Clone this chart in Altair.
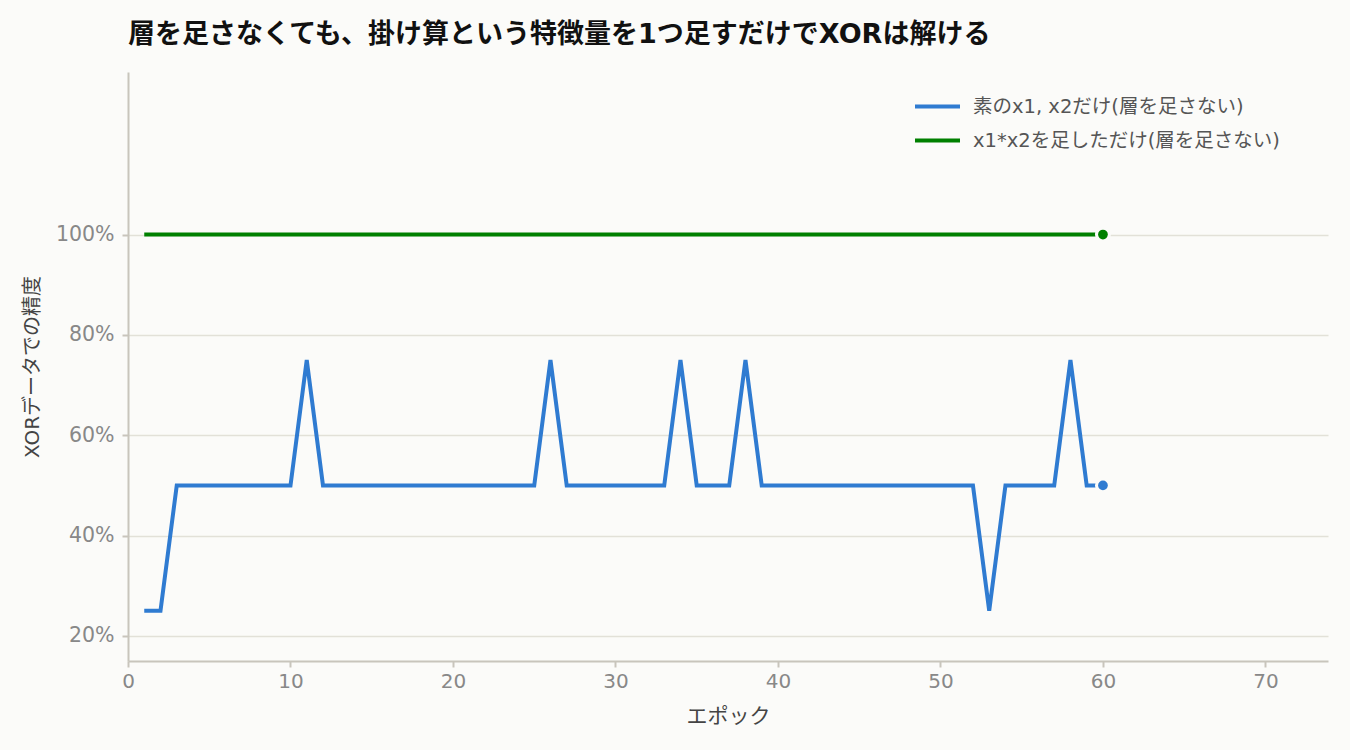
import altair as alt
import pandas as pd

# ---- data ----
epochs = list(range(1, 61))
series_names = ["素のx1, x2だけ(層を足さない)", "x1*x2を足しただけ(層を足さない)"]
acc_plain = [25, 25, 50, 50, 50, 50, 50, 50, 50, 50,
             75, 50, 50, 50, 50, 50, 50, 50, 50, 50,
             50, 50, 50, 50, 50, 75, 50, 50, 50, 50,
             50, 50, 50, 75, 50, 50, 50, 75, 50, 50,
             50, 50, 50, 50, 50, 50, 50, 50, 50, 50,
             50, 50, 25, 50, 50, 50, 50, 75, 50, 50]
acc_product = [100] * 60
colors = ["#2f7bd1", "#008000"]
x_ticks = [0, 10, 20, 30, 40, 50, 60, 70]
y_ticks = [20, 40, 60, 80, 100]

BG = "#fbfbf9"
FONT = "DejaVu Sans, Noto Sans CJK JP"

rows = []
for e, v in zip(epochs, acc_plain):
    rows.append({"epoch": e, "acc": v, "series": series_names[0]})
for e, v in zip(epochs, acc_product):
    rows.append({"epoch": e, "acc": v, "series": series_names[1]})
df = pd.DataFrame(rows)

x_enc = alt.X("epoch:Q",
              scale=alt.Scale(domain=[0, 73.85], nice=False, zero=False),
              axis=alt.Axis(title="エポック", values=x_ticks, grid=False,
                            labelFontSize=20, titleFontSize=21, labelPadding=4,
                            labelFlush=False, titlePadding=14))
y_enc = alt.Y("acc:Q",
              scale=alt.Scale(domain=[15, 132.4], nice=False, zero=False),
              axis=alt.Axis(title="XORデータでの精度", values=y_ticks,
                            labelExpr="datum.value + '%'", grid=True,
                            labelFontSize=20.5, titleFontSize=20, labelPadding=8,
                            titlePadding=13))
color_scale = alt.Scale(domain=series_names, range=colors)

base = alt.Chart(df)

lines = base.mark_line(strokeWidth=4, strokeCap="butt").encode(
    x=x_enc, y=y_enc,
    color=alt.Color("series:N", scale=color_scale,
                    legend=alt.Legend(title=None, orient="none", legendX=785, legendY=10,
                                      symbolType="stroke", symbolSize=2025,
                                      symbolStrokeWidth=4, labelFontSize=19.5,
                                      labelColor="#555555", labelFont=FONT,
                                      labelLimit=500,
                                      rowPadding=0, labelOffset=11, padding=0)),
    order="epoch:Q",
)

last = base.transform_filter("datum.epoch == 60")
halo = last.mark_point(filled=True, size=254, color=BG, opacity=1).encode(x=x_enc, y=y_enc)
dots = last.mark_point(filled=True, size=95, opacity=1).encode(
    x=x_enc, y=y_enc,
    color=alt.Color("series:N", scale=color_scale, legend=None))

chart = alt.layer(lines, halo, dots).properties(
    width=1200, height=589,
    title=alt.TitleParams("層を足さなくても、掛け算という特徴量を1つ足すだけでXORは解ける",
                          anchor="start", frame="group", fontSize=27, fontWeight="bold",
                          font=FONT, color="#111111", offset=23),
    autosize=alt.AutoSizeParams(type="none"),
    padding={"left": 128, "top": 72, "right": 22, "bottom": 89},
    background=BG,
).configure_view(strokeWidth=0).configure_axis(
    domainColor="#c8c5bc", domainWidth=2, tickColor="#c8c5bc", tickWidth=2, tickSize=6,
    gridColor="#e2e1d8", gridWidth=1.5, labelColor="#888888", titleColor="#444444",
    labelFont=FONT, titleFont=FONT, titleFontWeight="normal",
)

chart.save("out.html", embed_options={"renderer": "svg", "actions": False})
